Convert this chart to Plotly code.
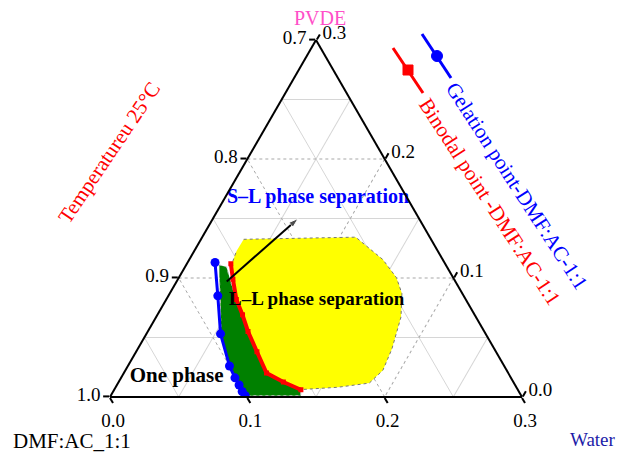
import plotly.graph_objects as go

# ---------------- data (fractions) ----------------
# a = PVDF (top), b = DMF:AC 1:1 (bottom-left), c = Water (bottom-right)
gel_pvdf = [0.113, 0.085, 0.053, 0.026, 0.016, 0.010, 0.0045, 0.001]
gel_water = [0.020, 0.036, 0.054, 0.074, 0.083, 0.089, 0.094, 0.098]

bin_pvdf = [0.112, 0.099, 0.082, 0.069, 0.055, 0.038, 0.020, 0.0125, 0.006]
bin_water = [0.032, 0.040, 0.051, 0.062, 0.073, 0.088, 0.104, 0.120, 0.136]

green_pvdf = [0.111, 0.1093, 0.0958, 0.0815, 0.0546, 0.0197, 0.0063, 0.001,
              0.001, 0.0054, 0.0152, 0.026, 0.0528, 0.0851, 0.1003]
green_water = [0.0241, 0.0302, 0.0402, 0.0514, 0.0727, 0.104, 0.1357, 0.1384,
               0.0996, 0.0934, 0.0832, 0.0739, 0.0545, 0.0377, 0.0295]

yellow_pvdf = [0.1325, 0.1343, 0.1155, 0.1003, 0.0869, 0.0672, 0.0403, 0.0224,
               0.0116, 0.0081, 0.0063, 0.0125, 0.0197, 0.0367, 0.0546, 0.0752,
               0.0958, 0.1119, 0.1227]
yellow_water = [0.0311, 0.1118, 0.1409, 0.1584, 0.1691, 0.1783, 0.1851, 0.1875,
                0.183, 0.1618, 0.1377, 0.12, 0.1046, 0.0882, 0.0727, 0.0565,
                0.0422, 0.0328, 0.0308]

arrow_pvdf = [0.097, 0.150]
arrow_water = [0.0365, 0.062]

label_text = ["<b>S–L phase separation</b>", "<b>L–L phase separation</b>", "<b>One phase</b>"]
label_pvdf = [0.167, 0.081, 0.017]
label_water = [0.068, 0.110, 0.040]
label_colors = ["#0000ff", "#000000", "#000000"]
label_sizes = [20, 19, 21]

a_ticks = [0.0, 0.1, 0.2, 0.3]
a_ticktext = ["1.0", "0.9", "0.8", "0.7"]
b_ticks = [1.0, 0.9, 0.8, 0.7]
b_ticktext = ["0.0", "0.1", "0.2", "0.3"]
c_ticks = [0.0, 0.1, 0.2, 0.3]
c_ticktext = ["0.3", "0.2", "0.1", "0.0"]
a_minor = [0.05, 0.15, 0.25]
b_minor = [0.95, 0.85, 0.75]
c_minor = [0.05, 0.15, 0.25]


def rest(p, w):
    return [1 - x - y for x, y in zip(p, w)]


# ---------------- layout helpers ----------------
OFF = 8                      # page body margin of the browser
W, H = 624 - OFF, 453 - OFF
ML, MR, MT, MB = 102, 102, 32, 56
PW, PH = W - ML - MR, H - MT - MB


def px(x, y):
    """window pixel -> paper coordinates"""
    x, y = x - OFF, y - OFF
    return (x - ML) / PW, (H - MB - y) / PH


SERIF = "Liberation Serif"
T = "ternary2"

fig = go.Figure()

# empty trace so that the minor-grid ternary subplot is drawn
fig.add_trace(go.Scatterternary(a=[], b=[], c=[], mode="markers",
                                subplot="ternary", hoverinfo="skip"))

fig.add_trace(go.Scatterternary(
    a=yellow_pvdf, b=rest(yellow_pvdf, yellow_water), c=yellow_water,
    mode="lines", fill="toself", fillcolor="#ffff00",
    line=dict(color="#777777", width=1, dash="dot"), subplot=T, hoverinfo="skip"))

fig.add_trace(go.Scatterternary(
    a=green_pvdf, b=rest(green_pvdf, green_water), c=green_water,
    mode="lines", fill="toself", fillcolor="#008000",
    line=dict(color="#bbbbbb", width=1, dash="dot"), subplot=T, hoverinfo="skip"))

fig.add_trace(go.Scatterternary(
    a=bin_pvdf, b=rest(bin_pvdf, bin_water), c=bin_water,
    mode="lines+markers", name="Binodal point -DMF:AC-1:1",
    line=dict(color="#ff0000", width=4),
    marker=dict(symbol="square", size=5, color="#ff0000"), subplot=T))

fig.add_trace(go.Scatterternary(
    a=gel_pvdf, b=rest(gel_pvdf, gel_water), c=gel_water,
    mode="lines+markers", name="Gelation point-DMF:AC-1:1",
    line=dict(color="#0000ff", width=3),
    marker=dict(symbol="circle", size=9, color="#0000ff"), subplot=T))

fig.add_trace(go.Scatterternary(
    a=arrow_pvdf, b=rest(arrow_pvdf, arrow_water), c=arrow_water,
    mode="lines+markers", line=dict(color="black", width=2),
    marker=dict(symbol=["circle", "arrow"], size=[0, 10], color="black",
                angleref="previous"),
    subplot=T, hoverinfo="skip"))

fig.add_trace(go.Scatterternary(
    a=label_pvdf, b=rest(label_pvdf, label_water), c=label_water,
    mode="text", text=label_text, cliponaxis=False,
    textfont=dict(family=SERIF, size=label_sizes, color=label_colors),
    subplot=T, hoverinfo="skip"))

major_font = dict(family=SERIF, size=19, color="black")


def major_axis(vals, texts):
    return dict(tickmode="array", tickvals=vals, ticktext=texts,
                ticks="outside", ticklen=6, tickwidth=1.5, tickcolor="black",
                showline=True, linecolor="black", linewidth=2,
                showgrid=True, gridcolor="#a8a8a8", gridwidth=1, griddash="3px,3px",
                tickfont=major_font, title=dict(text=""))


def minor_axis(vals):
    return dict(tickmode="array", tickvals=vals, ticks="", showticklabels=False,
                showline=False, showgrid=True, gridcolor="#d6d6d6", gridwidth=1,
                title=dict(text=""))


fig.update_layout(
    width=W, height=H,
    margin=dict(l=ML, r=MR, t=MT, b=MB),
    paper_bgcolor="white",
    showlegend=False,
    ternary=dict(
        sum=1, domain=dict(x=[0, 1], y=[0, 1]), bgcolor="white",
        aaxis=dict(min=0, **minor_axis(a_minor)),
        baxis=dict(min=0.7, **minor_axis(b_minor)),
        caxis=dict(min=0, **minor_axis(c_minor)),
    ),
    ternary2=dict(
        sum=1, domain=dict(x=[0, 1], y=[0, 1]), bgcolor="rgba(0,0,0,0)",
        aaxis=dict(min=0, **major_axis(a_ticks, a_ticktext)),
        baxis=dict(min=0.7, **major_axis(b_ticks, b_ticktext)),
        caxis=dict(min=0, **major_axis(c_ticks, c_ticktext)),
    ),
)

annotations = [
    ("PVDE", 320, 18, 0, "#ff4fc8", 20),
    ("DMF:AC_1:1", 72, 441, 0, "black", 21),
    ("Water", 593, 439, 0, "#1c1ca8", 19),
    ("Temperatureu 25°C", 109, 153, -56, "#ff0000", 21),
    ("Gelation point-DMF:AC-1:1", 517, 186, 57, "#0000ff", 21),
    ("Binodal point -DMF:AC-1:1", 490, 202, 57, "#ff0000", 21),
]
for text, x, y, ang, col, size in annotations:
    xp, yp = px(x, y)
    fig.add_annotation(text=text, x=xp, y=yp, xref="paper", yref="paper",
                       xanchor="center", yanchor="middle", showarrow=False,
                       textangle=ang, font=dict(family=SERIF, size=size, color=col))


# legend samples (rotated, drawn as shapes)
def line_shape(x0, y0, x1, y1, col):
    p0, p1 = px(x0, y0), px(x1, y1)
    fig.add_shape(type="line", xref="paper", yref="paper",
                  x0=p0[0], y0=p0[1], x1=p1[0], y1=p1[1],
                  line=dict(color=col, width=3))


def box_shape(kind, cx, cy, r, col):
    p0, p1 = px(cx - r, cy + r), px(cx + r, cy - r)
    fig.add_shape(type=kind, xref="paper", yref="paper",
                  x0=p0[0], y0=p0[1], x1=p1[0], y1=p1[1],
                  fillcolor=col, line=dict(color=col, width=1))


line_shape(422, 34, 451, 78, "#0000ff")
box_shape("circle", 437, 56, 5.5, "#0000ff")
line_shape(393, 48, 423, 93, "#ff0000")
box_shape("rect", 408, 70, 5, "#ff0000")

fig.write_html("out.html")
